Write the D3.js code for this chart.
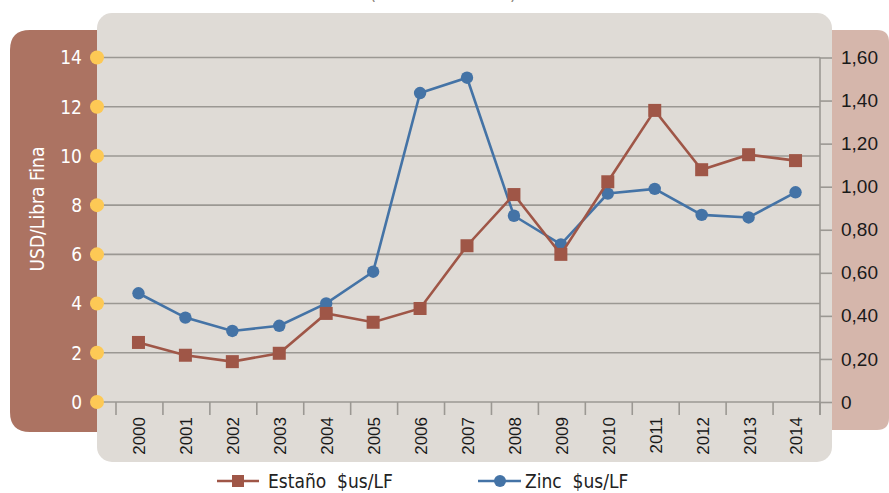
<!DOCTYPE html>
<html>
<head>
<meta charset="utf-8">
<script src="https://cdn.jsdelivr.net/npm/d3@7"></script>
<style>
  body { margin: 0; background: #fff; }
  svg { display: block; font-family: "Liberation Sans Narrow", "DejaVu Sans Condensed", "Open Sans", sans-serif; }
</style>
</head>
<body>
<svg id="chart" width="889" height="493"></svg>
<script>
// data
const years = ["2000","2001","2002","2003","2004","2005","2006","2007","2008","2009","2010","2011","2012","2013","2014"];
const estano = [2.42, 1.9, 1.64, 1.98, 3.6, 3.24, 3.8, 6.35, 8.43, 6.0, 8.95, 11.85, 9.44, 10.05, 9.81];   // USD/libra fina (left)
const zinc = [0.505, 0.392, 0.33, 0.354, 0.458, 0.605, 1.435, 1.506, 0.865, 0.732, 0.968, 0.99, 0.869, 0.857, 0.974]; // right axis
const leftTicks = [0, 2, 4, 6, 8, 10, 12, 14];
const rightTicks = [0, 0.2, 0.4, 0.6, 0.8, 1.0, 1.2, 1.4, 1.6];

const svg = d3.select("#chart");
const brown = "#9f5647", blue = "#4473a6";

// background panels
svg.append("path") // left brown panel
  .attr("d", "M10,50 Q10,30 30,30 L100,30 L100,432 L30,432 Q10,432 10,412 Z")
  .attr("fill", "#ac7362");
svg.append("path") // right pink panel
  .attr("d", "M830,30 L877,30 Q889,30 889,42 L889,418 Q889,430 877,430 L830,430 Z")
  .attr("fill", "#d5b6ab");
svg.append("rect")
  .attr("x", 97).attr("y", 13).attr("width", 735).attr("height", 449)
  .attr("rx", 15).attr("fill", "#dfdbd6");

// title, cut off at the top like in the original
svg.append("text")
  .attr("x", 443).attr("y", 0)
  .attr("text-anchor", "middle")
  .attr("font-size", 18).attr("fill", "#8a8275")
  .text("(Cotización anual)");

const y = d3.scaleLinear().domain([0, 14]).range([402, 57.5]);
const y2 = d3.scaleLinear().domain([0, 1.6]).range([402, 57.5]);
const x = d3.scaleBand().domain(years).range([116, 820]);

// gridlines
svg.append("g")
  .selectAll("line").data(leftTicks).join("line")
  .attr("x1", 97).attr("x2", 820)
  .attr("y1", d => y(d)).attr("y2", d => y(d))
  .attr("stroke", "#9b9893").attr("stroke-width", 1.6);

// x axis
const xAxis = svg.append("g")
  .attr("transform", "translate(0,402)")
  .call(d3.axisBottom(x).tickSize(0).tickPadding(0));
xAxis.select(".domain").remove();
xAxis.selectAll("text")
  .attr("transform", "rotate(-90)")
  .attr("x", -15).attr("y", 0).attr("dy", "0.35em")
  .style("text-anchor", "end")
  .attr("font-size", 17).attr("fill", "#1a1a1a")
  .attr("font-family", null);
svg.append("g")
  .selectAll("line").data(years.concat(["end"])).join("line")
  .attr("x1", (d, i) => 116 + i * x.step()).attr("x2", (d, i) => 116 + i * x.step())
  .attr("y1", 402).attr("y2", 415)
  .attr("stroke", "#9b9893").attr("stroke-width", 1.6);

// right axis
const rAxis = svg.append("g")
  .attr("transform", "translate(820,0)")
  .call(d3.axisRight(y2).tickValues(rightTicks).tickSize(12).tickPadding(9)
    .tickFormat(d => d === 0 ? "0" : d3.format(".2f")(d).replace(".", ",")));
rAxis.select(".domain").attr("d", "M0,57.5V415").attr("stroke", "#9b9893").attr("stroke-width", 1.6);
rAxis.selectAll(".tick line").attr("stroke", "#9b9893").attr("stroke-width", 1.6);
rAxis.selectAll("text").attr("font-size", 19).attr("fill", "#1a1a1a").attr("font-family", null);

// left axis: yellow dots + white labels
const lAxis = svg.append("g");
lAxis.selectAll("circle").data(leftTicks).join("circle")
  .attr("cx", 97).attr("cy", d => y(d)).attr("r", 7).attr("fill", "#fdc955");
lAxis.selectAll("text").data(leftTicks).join("text")
  .attr("x", 82).attr("y", d => y(d)).attr("dy", "0.36em")
  .attr("text-anchor", "end").attr("font-size", 19).attr("fill", "#fff")
  .text(d => d);
svg.append("text")
  .attr("transform", "translate(37,209) rotate(-90)")
  .attr("text-anchor", "middle").attr("dy", "0.35em")
  .attr("font-size", 19).attr("fill", "#fff")
  .text("USD/Libra Fina");

const cx = d => x(d) + x.bandwidth() / 2 - 1;

// zinc line (right axis)
svg.append("path").datum(zinc)
  .attr("fill", "none").attr("stroke", blue).attr("stroke-width", 2.6)
  .attr("d", d3.line().x((d, i) => cx(years[i])).y(d => y2(d)));
svg.append("g").selectAll("circle").data(zinc).join("circle")
  .attr("cx", (d, i) => cx(years[i])).attr("cy", d => y2(d)).attr("r", 6.2).attr("fill", blue);

// tin line (left axis)
svg.append("path").datum(estano)
  .attr("fill", "none").attr("stroke", brown).attr("stroke-width", 2.6)
  .attr("d", d3.line().x((d, i) => cx(years[i])).y(d => y(d)));
svg.append("g").selectAll("rect").data(estano).join("rect")
  .attr("x", (d, i) => cx(years[i]) - 6.5).attr("y", d => y(d) - 6.5)
  .attr("width", 13).attr("height", 13).attr("fill", brown);

// legend
const leg = svg.append("g");
leg.append("line").attr("x1", 217).attr("x2", 259).attr("y1", 481).attr("y2", 481)
  .attr("stroke", brown).attr("stroke-width", 2.6);
leg.append("rect").attr("x", 232).attr("y", 475).attr("width", 12).attr("height", 12).attr("fill", brown);
leg.append("text").attr("x", 268).attr("y", 481).attr("dy", "0.35em")
  .attr("font-size", 19).attr("fill", "#222").attr("xml:space", "preserve")
  .text("Estaño  $us/LF");
leg.append("line").attr("x1", 478).attr("x2", 521).attr("y1", 481).attr("y2", 481)
  .attr("stroke", blue).attr("stroke-width", 2.6);
leg.append("circle").attr("cx", 500).attr("cy", 481).attr("r", 6).attr("fill", blue);
leg.append("text").attr("x", 525).attr("y", 481).attr("dy", "0.35em")
  .attr("font-size", 19).attr("fill", "#222").attr("xml:space", "preserve")
  .text("Zinc  $us/LF");
</script>
</body>
</html>
